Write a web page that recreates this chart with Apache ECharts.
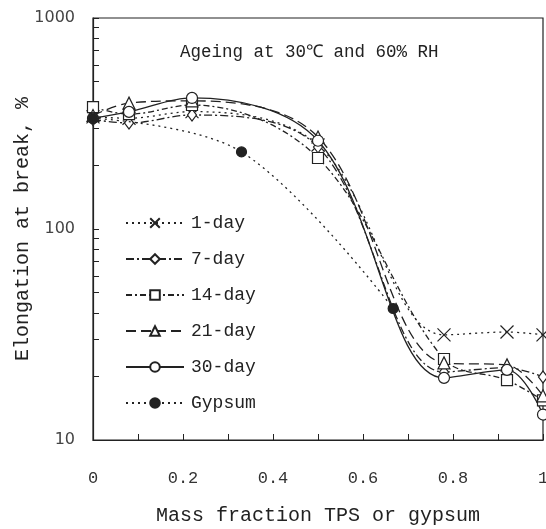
<!DOCTYPE html>
<html>
<head>
<meta charset="utf-8">
<script src="https://cdn.jsdelivr.net/npm/echarts@6/dist/echarts.min.js"></script>
<style>
  html, body { margin: 0; padding: 0; background: #fff; }
  #chart { width: 546px; height: 529px; }
</style>
</head>
<body>
<div id="chart"></div>
<script>
// mass fraction positions
const fractions = [0, 0.08, 0.22, 0.5, 0.78, 0.92, 1]
const gypsumX = [0, 0.33, 0.667]

// elongation at break, %
const day1 = [340, 335, 360, 250, 31.5, 32.5, 31.5]
const day7 = [330, 318, 347, 245, 21, 22, 19.9]
const day14 = [378, 350, 387, 217, 24.2, 19.2, 15.4]
const day21 = [345, 395, 405, 273, 23.2, 22.7, 16.2]
const day30 = [335, 359, 418, 262, 19.7, 21.5, 13.2]
const gypsum = [335, 232, 42]

const yTicks = [10, 20, 30, 40, 50, 60, 70, 80, 90, 100, 200, 300, 400, 500, 600, 700, 800, 900, 1000]

const ink = '#222'
const mono = '"Liberation Mono", "DejaVu Sans Mono", monospace'

const pair = (xs, ys) => xs.map((x, i) => [x, ys[i]])

const mk = (name, ys, xs, symbol, size, dash, fill) => ({
  name,
  type: 'line',
  smooth: 0.35,
  data: pair(xs, ys),
  symbol,
  symbolSize: size,
  showSymbol: true,
  lineStyle: { color: ink, width: 1.3, type: dash },
  itemStyle: { color: fill, borderColor: ink, borderWidth: 1.2 },
  emphasis: { disabled: true },
  z: name === 'Gypsum' ? 3 : 2
})

const series = [
  mk('1-day', day1, fractions, 'path://M0,0L10,10M10,0L0,10', 13, [2, 4], 'none'),
  mk('7-day', day7, fractions, 'diamond', [9, 12], [8, 3, 2, 3], '#fff'),
  mk('14-day', day14, fractions, 'rect', 11, [6, 3, 2, 3], '#fff'),
  mk('21-day', day21, fractions, 'triangle', 12, [10, 5], '#fff'),
  mk('30-day', day30, fractions, 'circle', 11, 'solid', '#fff'),
  mk('Gypsum', gypsum, gypsumX, 'circle', 10, [2, 4], ink)
]

const chart = echarts.init(document.getElementById('chart'))
chart.setOption({
  animation: false,
  title: {
    text: 'Ageing at 30℃ and 60% RH',
    left: 175,
    top: 38,
    textStyle: { fontFamily: mono, fontSize: 17.5, fontWeight: 'normal', color: ink }
  },
  grid: {
    left: 93, right: 3, top: 18, bottom: 89,
    outerBoundsMode: 'none',
    containLabel: false,
    show: true, borderColor: ink, borderWidth: 1.2, backgroundColor: 'transparent'
  },
  legend: {
    orient: 'vertical',
    left: 120,
    top: 209,
    itemWidth: 58,
    itemHeight: 12,
    itemGap: 18,
    data: series.map(s => s.name),
    textStyle: { fontFamily: mono, fontSize: 18, color: ink, padding: [0, 0, 0, 2] },
    selectedMode: false
  },
  xAxis: {
    type: 'value',
    min: 0,
    max: 1,
    interval: 0.2,
    name: 'Mass fraction TPS or gypsum',
    nameLocation: 'middle',
    nameGap: 66,
    nameMoveOverlap: false,
    nameTextStyle: { fontFamily: mono, fontSize: 20, color: ink },
    axisLine: { lineStyle: { color: ink, width: 1.2 } },
    axisTick: { inside: true, length: 6, lineStyle: { color: ink } },
    minorTick: { show: true, splitNumber: 2, length: 6, lineStyle: { color: ink } },
    axisLabel: { margin: 30, fontFamily: mono, fontSize: 17, color: '#333' },
    splitLine: { show: false }
  },
  yAxis: {
    type: 'log',
    logBase: 10,
    min: 10,
    max: 1000,
    name: 'Elongation at break, %',
    nameLocation: 'middle',
    nameGap: 60,
    nameMoveOverlap: false,
    nameTextStyle: { fontFamily: mono, fontSize: 20, color: ink },
    axisLine: { lineStyle: { color: ink, width: 1.2 } },
    axisTick: { inside: true, length: 6, customValues: yTicks, lineStyle: { color: ink } },
    axisLabel: {
      margin: 18,
      fontFamily: '"DejaVu Sans", sans-serif',
      fontSize: 16,
      color: '#444',
      formatter: v => String(Math.round(v))
    },
    splitLine: { show: false }
  },
  series
})
</script>
</body>
</html>
